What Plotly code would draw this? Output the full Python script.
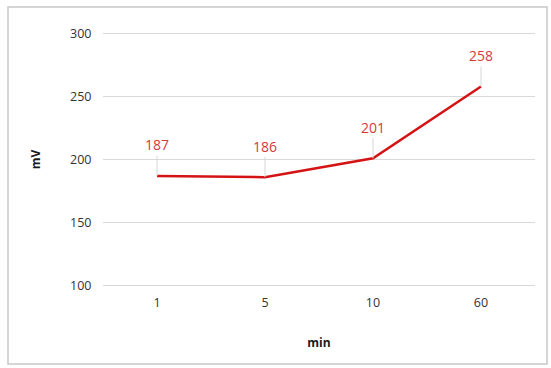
import plotly.graph_objects as go

categories = ["1", "5", "10", "60"]
values = [187, 186, 201, 258]
y_ticks = [100, 150, 200, 250, 300]

L, R, T, B = 103, 16, 31, 80
W, H = 551, 368
pw, ph = W - L - R, H - T - B

fig = go.Figure()
fig.add_trace(go.Scatter(
    x=categories, y=values, mode="lines",
    line=dict(color="#d41414", width=2.5),
    hoverinfo="skip", showlegend=False,
))

for i, v in enumerate(values):
    fig.add_annotation(
        x=i, y=v, xref="x", yref="y", text=str(v),
        showarrow=True, arrowhead=0, arrowwidth=1, arrowcolor="#d6d6d6",
        ax=0, ay=-31, standoff=0,
        font=dict(family="Open Sans", size=14, color="#d63a3a"),
    )

fig.add_shape(
    type="rect", xref="paper", yref="paper",
    x0=(8 - L) / pw, x1=(547 - L) / pw,
    y0=(H - B - 364) / ph, y1=(H - B - 7) / ph,
    line=dict(color="#c8c8c8", width=1.5), fillcolor="rgba(0,0,0,0)", layer="below",
)

fig.update_layout(
    width=W, height=H,
    margin=dict(l=L, r=R, t=T, b=B),
    paper_bgcolor="white", plot_bgcolor="white",
    font=dict(family="Open Sans", color="#333333"),
    xaxis=dict(
        type="category", range=[-0.5, 3.5], showgrid=False, showline=False,
        zeroline=False, ticks="outside", ticklen=3, tickcolor="rgba(0,0,0,0)",
        tickfont=dict(size=12.5, color="#333333"),
        title=dict(text="<b>min</b>", font=dict(size=12, color="#1a1a1a"), standoff=28),
    ),
    yaxis=dict(
        range=[98, 302], tickvals=y_ticks, showgrid=True, gridcolor="#d9d9d9",
        gridwidth=1, zeroline=False, showline=False, ticks="outside", ticklen=8,
        tickcolor="rgba(0,0,0,0)",
        tickfont=dict(size=12.5, color="#333333"),
        title=dict(text="<b>mV</b>", font=dict(size=12, color="#1a1a1a"), standoff=26),
    ),
)

fig.write_html("out.html")
